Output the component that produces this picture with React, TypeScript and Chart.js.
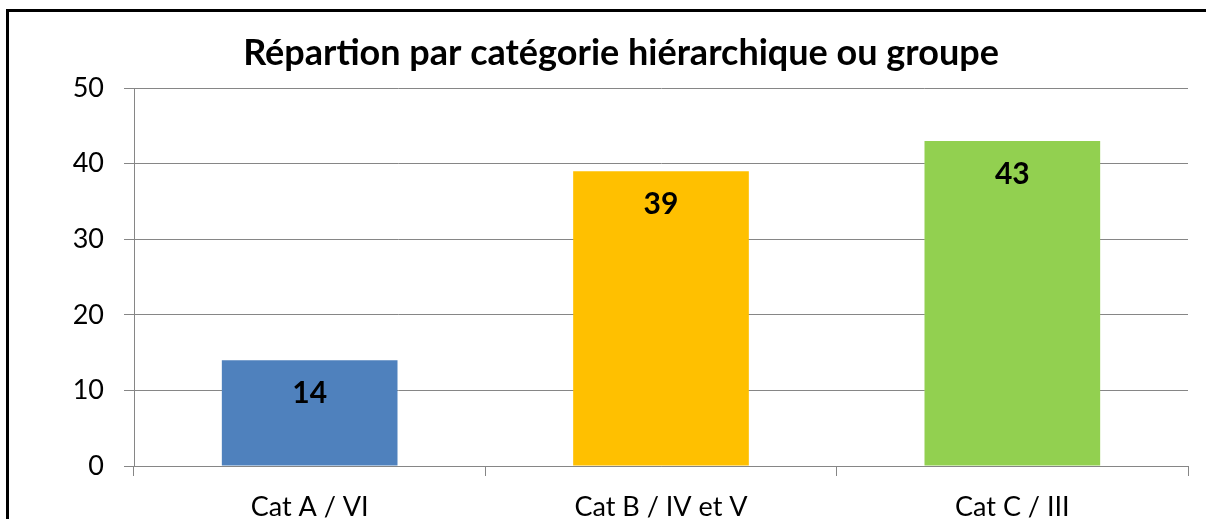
import React, { useEffect, useRef } from "react";
import { Chart, registerables } from "chart.js";

Chart.register(...registerables);

const TITLE = "Répartion par catégorie hiérarchique ou groupe";
const categories = ["Cat A / VI", "Cat B / IV et V", "Cat C / III"];
const values = [14, 39, 43];
const barColors = ["#4F81BD", "#FFC000", "#92D050"];
const yTicks = [0, 10, 20, 30, 40, 50];

const FONT = "Lato, 'Open Sans', sans-serif";
const W = 1206;
const H = 560;

const framePlugin = {
  id: "frame",
  beforeDraw(chart: any) {
    const ctx = chart.ctx;
    ctx.save();
    ctx.fillStyle = "#ffffff";
    ctx.fillRect(0, 0, chart.width, chart.height);
    ctx.strokeStyle = "#000000";
    ctx.lineWidth = 3;
    ctx.beginPath();
    ctx.moveTo(7.5, chart.height);
    ctx.lineTo(7.5, 10.5);
    ctx.lineTo(chart.width, 10.5);
    ctx.stroke();
    ctx.restore();
  },
  afterDraw(chart: any) {
    const ctx = chart.ctx;
    ctx.save();
    ctx.fillStyle = "#000000";
    ctx.font = `bold 36px ${FONT}`;
    ctx.textAlign = "center";
    ctx.textBaseline = "middle";
    ctx.fillText(TITLE, 621, 53);
    // data labels
    const meta = chart.getDatasetMeta(0);
    ctx.font = `bold 30px ${FONT}`;
    meta.data.forEach((bar: any, i: number) => {
      ctx.fillText(String(values[i]), bar.x, bar.y + 33);
    });
    ctx.restore();
  },
};

export default function App() {
  const ref = useRef<HTMLCanvasElement>(null);
  useEffect(() => {
    if (!ref.current) return;
    const chart = new Chart(ref.current, {
      type: "bar",
      data: {
        labels: categories,
        datasets: [
          {
            data: values,
            backgroundColor: barColors,
            borderWidth: 0,
            categoryPercentage: 0.5,
            barPercentage: 1,
          },
        ],
      },
      options: {
        animation: false,
        responsive: false,
        devicePixelRatio: 1,
        layout: { padding: { top: 88, right: 18, left: 0, bottom: 0 } },
        plugins: { legend: { display: false }, tooltip: { enabled: false }, title: { display: false } },
        scales: {
          x: {
            grid: {
              offset: true,
              drawOnChartArea: false,
              drawTicks: true,
              tickLength: 10,
              color: "#868686",
              lineWidth: 1,
            },
            border: { color: "#868686", width: 1 },
            ticks: {
              color: "#000000",
              font: { family: FONT, size: 27 },
              padding: 15,
              maxRotation: 0,
            },
            afterFit(scale: any) {
              scale.height = H - 466;
            },
          },
          y: {
            min: 0,
            max: 50,
            afterBuildTicks(scale: any) {
              scale.ticks = yTicks.map((v) => ({ value: v }));
            },
            grid: { color: "#868686", lineWidth: 1, tickLength: 10, drawTicks: true },
            border: { color: "#868686", width: 1 },
            ticks: {
              color: "#000000",
              font: { family: FONT, size: 27 },
              padding: 20,
            },
            afterFit(scale: any) {
              scale.width = 134;
            },
          },
        },
      },
      plugins: [framePlugin],
    });
    return () => chart.destroy();
  }, []);
  return (
    <div style={{ position: "absolute", left: 0, top: 0, width: W, height: H }}>
      <canvas ref={ref} width={W} height={H} style={{ width: W, height: H, display: "block" }} />
    </div>
  );
}
